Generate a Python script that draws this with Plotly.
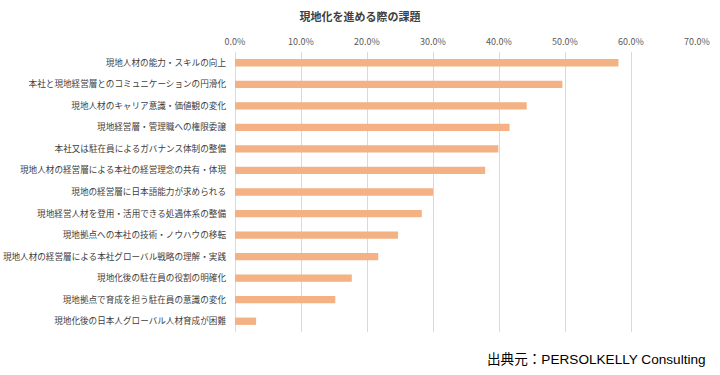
import plotly.graph_objects as go

categories = [
    "現地人材の能力・スキルの向上",
    "本社と現地経営層とのコミュニケーションの円滑化",
    "現地人材のキャリア意識・価値観の変化",
    "現地経営層・管理職への権限委譲",
    "本社又は駐在員によるガバナンス体制の整備",
    "現地人材の経営層による本社の経営理念の共有・体現",
    "現地の経営層に日本語能力が求められる",
    "現地経営人材を登用・活用できる処遇体系の整備",
    "現地拠点への本社の技術・ノウハウの移転",
    "現地人材の経営層による本社グローバル戦略の理解・実践",
    "現地化後の駐在員の役割の明確化",
    "現地拠点で育成を担う駐在員の意識の変化",
    "現地化後の日本人グローバル人材育成が困難",
]
values = [0.581, 0.496, 0.442, 0.416, 0.399, 0.379, 0.300, 0.283, 0.247, 0.217, 0.177, 0.152, 0.032]

title_text = "現地化を進める際の課題"
source_text = "出典元：PERSOLKELLY Consulting"

W, H = 720, 375
L, R, T, B = 235, 23, 52, 43

fig = go.Figure(go.Bar(
    x=values, y=categories, orientation="h",
    marker=dict(color="#F4B183", line=dict(width=0)),
    width=0.34,
))

fig.update_layout(
    width=W, height=H,
    margin=dict(l=L, r=R, t=T, b=B, autoexpand=False),
    paper_bgcolor="white", plot_bgcolor="white",
    showlegend=False,
    font=dict(family="Noto Sans CJK JP", color="#595959"),
    title=dict(text="<b>" + title_text + "</b>", x=0.5, xanchor="center",
               y=1 - 17 / H, yanchor="middle", xref="container", yref="container",
               font=dict(size=11, color="#404040", family="Noto Sans CJK JP")),
    xaxis=dict(side="top", range=[0, 0.7], dtick=0.1, tickformat=".1%",
               showgrid=True, gridcolor="#D9D9D9", gridwidth=1,
               zeroline=True, zerolinecolor="#D9D9D9", zerolinewidth=1,
               showline=False, ticks="", ticklabelstandoff=4,
               tickfont=dict(size=9, color="#595959"),
               automargin=False, fixedrange=True),
    yaxis=dict(autorange="reversed", showgrid=False, zeroline=False, showline=False,
               ticks="", ticklabelstandoff=8, automargin=False, fixedrange=True,
               tickfont=dict(size=8.6, color="#404040")),
    bargap=0.66,
)

fig.add_annotation(text=source_text, xref="paper", yref="paper",
                   x=(708 - L) / (W - L - R), y=-(359 - (H - B)) / (H - T - B),
                   xanchor="right", yanchor="middle", showarrow=False,
                   font=dict(size=13.6, color="#000000", family="Liberation Sans, Noto Sans CJK JP"))

fig.write_html("out.html", config={"displayModeBar": False},
               post_script="document.body.style.margin='0';")
